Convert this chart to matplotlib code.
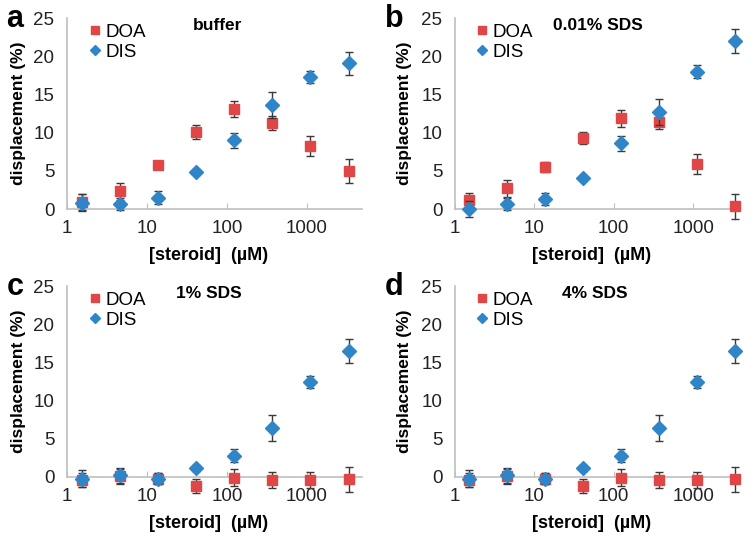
import matplotlib
matplotlib.use("Agg")
import matplotlib.pyplot as plt

plt.rcParams['font.family'] = ['Liberation Sans', 'DejaVu Sans']

# concentrations (uM), 3-fold dilutions
conc = [1.52, 4.57, 13.7, 41.2, 123, 370, 1111, 3333]

# a: buffer
a_doa = [0.9, 2.3, 5.8, 10.1, 13.1, 11.3, 8.2, 5.0]
a_doa_err = [1.0, 1.1, 0.5, 0.9, 1.0, 0.9, 1.3, 1.6]
a_dis = [0.8, 0.7, 1.5, 4.9, 9.0, 13.6, 17.3, 19.1]
a_dis_err = [1.1, 0.8, 0.8, 0.3, 1.0, 1.7, 0.8, 1.5]

# b: 0.01% SDS
b_doa = [1.2, 2.7, 5.5, 9.3, 11.9, 11.4, 5.9, 0.35]
b_doa_err = [0.9, 1.1, 0.6, 0.8, 1.1, 0.9, 1.3, 1.6]
b_dis = [0.0, 0.7, 1.3, 4.1, 8.6, 12.7, 18.0, 22.0]
b_dis_err = [1.0, 0.8, 0.8, 0.4, 1.0, 1.7, 0.8, 1.6]

# c: 1% SDS
c_doa = [-0.4, 0.1, -0.2, -1.2, -0.1, -0.4, -0.4, -0.3]
c_doa_err = [0.9, 1.0, 0.7, 0.9, 1.1, 1.0, 1.1, 1.6]
c_dis = [-0.2, 0.2, -0.2, 1.2, 2.8, 6.4, 12.4, 16.5]
c_dis_err = [1.1, 1.0, 0.7, 0.4, 0.9, 1.7, 0.8, 1.6]

# d: 4% SDS
d_doa = [-0.4, 0.1, -0.2, -1.2, -0.1, -0.4, -0.4, -0.3]
d_doa_err = [0.9, 1.0, 0.7, 0.9, 1.1, 1.0, 1.1, 1.6]
d_dis = [-0.2, 0.2, -0.2, 1.2, 2.8, 6.4, 12.4, 16.5]
d_dis_err = [1.1, 1.0, 0.7, 0.4, 0.9, 1.7, 0.8, 1.6]

panels = [
    ("a", "buffer", a_doa, a_doa_err, a_dis, a_dis_err),
    ("b", "0.01% SDS", b_doa, b_doa_err, b_dis, b_dis_err),
    ("c", "1% SDS", c_doa, c_doa_err, c_dis, c_dis_err),
    ("d", "4% SDS", d_doa, d_doa_err, d_dis, d_dis_err),
]

# axes boxes [left, bottom, width, height], x max, letter x, ylabel x, title x
boxes = [
    ([0.0887, 0.6115, 0.3907, 0.355], 4900, -0.205, -0.14, 0.51),
    ([0.6026, 0.6115, 0.3775, 0.355], 3900, -0.245, -0.15, 0.50),
    ([0.0887, 0.1134, 0.3907, 0.355], 4900, -0.205, -0.14, 0.48),
    ([0.6026, 0.1134, 0.3775, 0.355], 3900, -0.245, -0.15, 0.49),
]

red = '#E04646'
blue = '#2E86C8'
ecol = '#3a3a3a'
axcol = '#BFBFBF'

fig = plt.figure(figsize=(7.55, 5.38), dpi=100)

for (letter, title, doa, doa_e, dis, dis_e), (box, xmax, lx, yx, tx) in zip(panels, boxes):
    ax = fig.add_axes(box)
    ax.set_xscale('log')
    ax.set_xlim(1, xmax)
    ax.set_ylim(0, 25)

    ax.errorbar(conc, doa, yerr=doa_e, fmt='none', ecolor=ecol, elinewidth=1,
                capsize=3, capthick=1, clip_on=False, zorder=3)
    ax.plot(conc, doa, 's', color=red, ms=7, label='DOA', clip_on=False, zorder=4)
    ax.errorbar(conc, dis, yerr=dis_e, fmt='none', ecolor=ecol, elinewidth=1,
                capsize=3, capthick=1, clip_on=False, zorder=5)
    ax.plot(conc, dis, 'D', color=blue, ms=7, label='DIS', clip_on=False, zorder=6)

    for s in ['top', 'right']:
        ax.spines[s].set_visible(False)
    for s in ['left', 'bottom']:
        ax.spines[s].set_color(axcol)
        ax.spines[s].set_linewidth(1.2)

    ax.set_yticks([0, 5, 10, 15, 20, 25])
    ax.set_xticks([1, 10, 100, 1000])
    ax.set_xticklabels(['1', '10', '100', '1000'])
    ax.minorticks_off()
    ax.tick_params(axis='y', length=0, pad=9, labelsize=13.5, labelcolor='#222222')
    ax.tick_params(axis='x', direction='in', length=4, color=axcol, pad=8,
                   labelsize=13.5, labelcolor='#222222')

    ax.set_ylabel('displacement (%)', fontsize=12.5, fontweight='bold')
    ax.yaxis.set_label_coords(yx, 0.5)
    ax.set_xlabel('[steroid]  (\u00b5M)', fontsize=13, fontweight='bold')
    ax.xaxis.set_label_coords(0.48, -0.2)

    ax.text(tx, 0.963, title, transform=ax.transAxes, ha='center', va='center',
            fontsize=12.5, fontweight='bold')
    ax.text(lx, 0.953, letter, transform=ax.transAxes, ha='left', va='baseline',
            fontsize=22, fontweight='bold')

    ax.legend(loc='upper left', bbox_to_anchor=(0.05, 1.01), frameon=False,
              fontsize=13.5, handlelength=0.6, handletextpad=0.25,
              labelspacing=0.15, borderaxespad=0, markerscale=0.8)

fig.savefig('out.png', dpi=100)
